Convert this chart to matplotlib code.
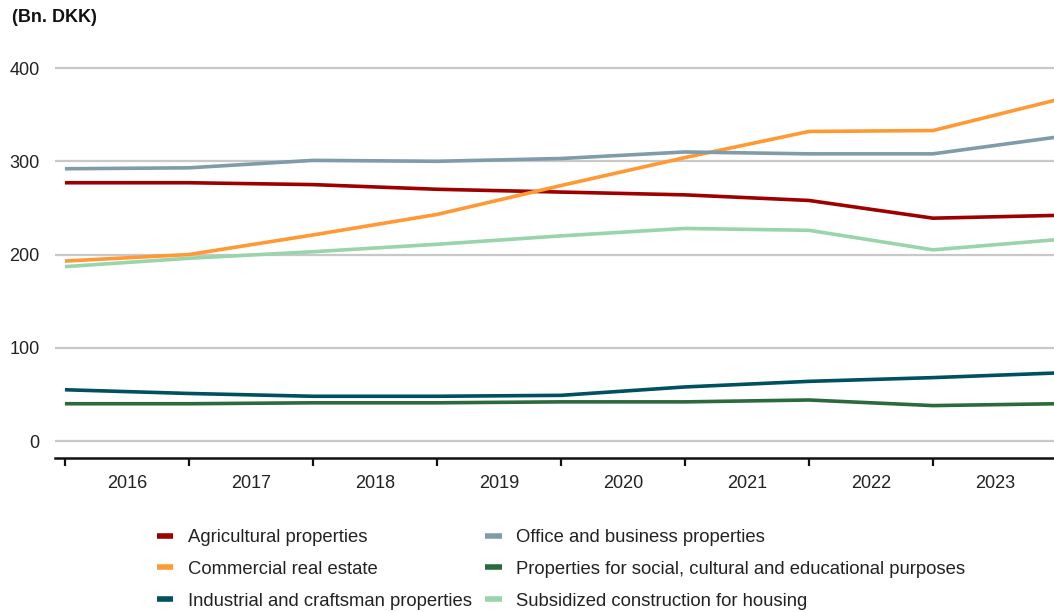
import matplotlib
matplotlib.use("Agg")
import matplotlib.pyplot as plt
import numpy as np

plt.rcParams["font.family"] = ["Liberation Sans", "DejaVu Sans"]

# Year labels sit between the year-boundary ticks
years = ["2016", "2017", "2018", "2019", "2020", "2021", "2022", "2023"]

# Values in billion DKK at each year boundary (9 points)
agricultural = [277, 277, 275, 270, 267, 264, 258, 239, 242]
commercial = [193, 200, 221, 243, 274, 304, 332, 333, 366]
industrial = [55, 51, 48, 48, 49, 58, 64, 68, 73]
office = [292, 293, 301, 300, 303, 310, 308, 308, 326]
social = [40, 40, 41, 41, 42, 42, 44, 38, 40]
subsidized = [187, 196, 203, 211, 220, 228, 226, 205, 216]

series_names = [
    "Agricultural properties",
    "Commercial real estate",
    "Industrial and craftsman properties",
    "Office and business properties",
    "Properties for social, cultural and educational purposes",
    "Subsidized construction for housing",
]
series_values = [agricultural, commercial, industrial, office, social, subsidized]
series_colors = ["#9e0000", "#ff9933", "#00505f", "#7f9ca8", "#2a6a3c", "#99d4ab"]

W, H = 1054, 612
fig = plt.figure(figsize=(W / 100, H / 100), dpi=100)
ax = fig.add_axes([55 / W, (H - 458) / H, 1 - 55 / W, (458 - 66) / H])

x = np.arange(len(agricultural))
for name, vals, col in zip(series_names, series_values, series_colors):
    ax.plot(x, vals, color=col, lw=2.6, label=name, solid_capstyle="butt",
            solid_joinstyle="round", zorder=3)

ax.set_xlim(-0.08, 7.976)
ax.set_ylim(-18.2, 402.2)

ax.set_yticks([0, 100, 200, 300, 400])
ax.yaxis.grid(True, color="#c8c8c8", lw=1.6)
ax.set_axisbelow(True)
ax.tick_params(axis="y", length=0, pad=11, labelsize=13, labelcolor="#222222")

ax.set_xticks(np.arange(0, 8))
ax.set_xticklabels([])
ax.set_xticks(np.arange(len(years)) + 0.5, minor=True)
ax.set_xticklabels(years, minor=True)
ax.tick_params(axis="x", which="major", length=6, width=1.6, color="#111111", direction="out")
ax.tick_params(axis="x", which="minor", length=0, pad=12, labelsize=13, labelcolor="#222222")

for s in ["top", "right", "left"]:
    ax.spines[s].set_visible(False)
ax.spines["bottom"].set_color("#111111")
ax.spines["bottom"].set_linewidth(1.8)

fig.text(12 / W, 1 - 18 / H, "(Bn. DKK)", fontsize=13, fontweight="bold",
         va="center", ha="left", color="#111111")

leg = fig.legend(loc="upper left", bbox_to_anchor=(157 / W, 1 - 529 / H), ncol=2,
                 frameon=False, fontsize=13.3, handlelength=0.88, handletextpad=0.8,
                 columnspacing=0.72, labelspacing=0.8, borderpad=0, borderaxespad=0)
for line in leg.get_lines():
    line.set_linewidth(4)
for t in leg.get_texts():
    t.set_color("#222222")

fig.savefig("out.png", dpi=100)
